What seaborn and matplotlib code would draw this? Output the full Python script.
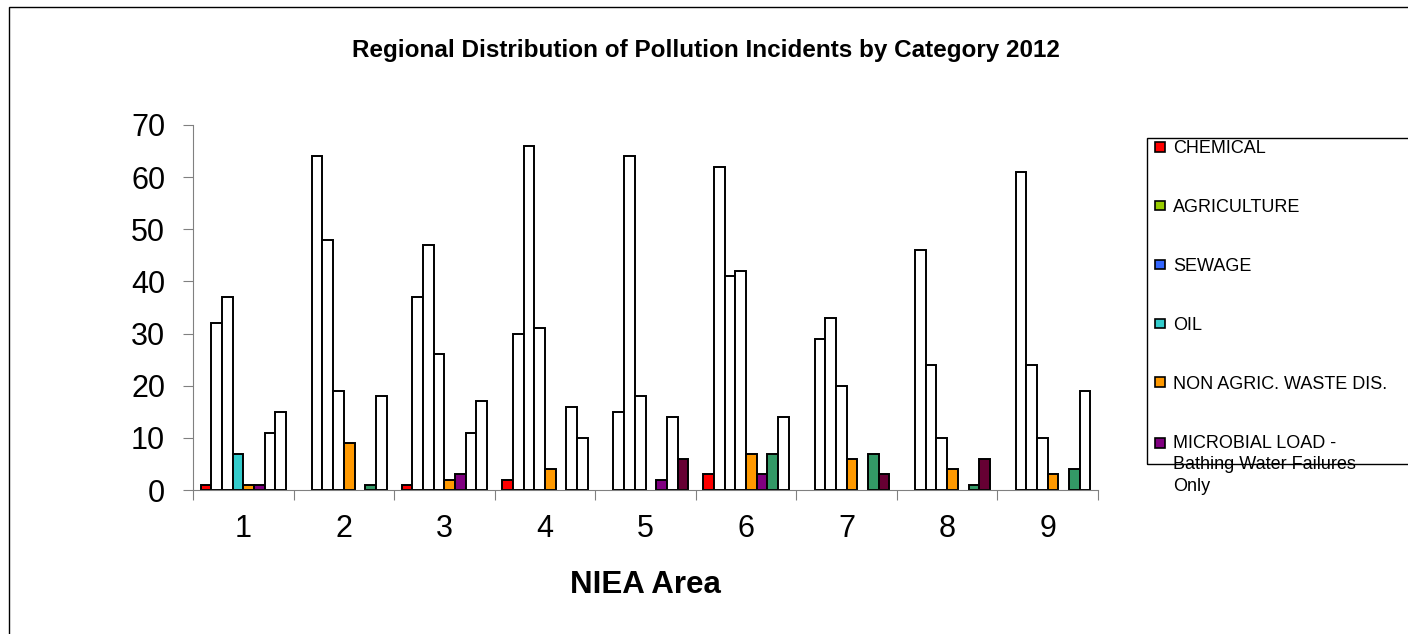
import pandas as pd
import matplotlib.pyplot as plt
import seaborn as sns
from matplotlib.patches import Rectangle
from matplotlib.legend_handler import HandlerPatch

sns.set_theme(style="white")
plt.rcParams['font.family'] = ['Liberation Sans', 'DejaVu Sans']
plt.rcParams['text.color'] = 'black'
plt.rcParams['axes.labelcolor'] = 'black'
plt.rcParams['xtick.labelcolor'] = 'black'
plt.rcParams['ytick.labelcolor'] = 'black'

# data: incidents per NIEA area, one list per category
areas = ['1', '2', '3', '4', '5', '6', '7', '8', '9']
categories = ['CHEMICAL', 'AGRICULTURE', 'SEWAGE', 'OIL', 'NON AGRIC. WASTE DIS.',
              'MICROBIAL LOAD -\nBathing Water Failures\nOnly', 'OTHER', 'UNKNOWN']
chemical = [1, 0, 1, 2, 0, 3, 0, 0, 0]
agriculture = [32, 64, 37, 30, 15, 62, 29, 46, 61]
sewage = [37, 48, 47, 66, 64, 41, 33, 24, 24]
oil = [7, 19, 26, 31, 18, 42, 20, 10, 10]
non_agric = [1, 9, 2, 4, 0, 7, 6, 4, 3]
microbial = [1, 0, 3, 0, 2, 3, 0, 0, 0]
other = [11, 1, 11, 16, 14, 7, 7, 1, 4]
unknown = [15, 18, 17, 10, 6, 14, 3, 6, 19]

colors = ['#FF0000', '#99CC00', '#3366FF', '#33CCCC', '#FF9900', '#800080', '#339966', '#660033']
n_legend = 6  # the last two entries fall outside the visible legend


def build_frame():
    series = [chemical, agriculture, sewage, oil, non_agric, microbial, other, unknown]
    rows = []
    for cat, vals in zip(categories, series):
        for area, v in zip(areas, vals):
            rows.append({'area': area, 'category': cat, 'incidents': v})
    return pd.DataFrame(rows)


def square_handle(legend, orig_handle, xdescent, ydescent, width, height, fontsize):
    side = 7.0
    shift = 0
    if '\n' in orig_handle.get_label():
        shift = 15.6  # put the marker next to the first line
    return Rectangle((width - side - xdescent, (height - side) / 2 - ydescent + shift), side, side)


def main():
    df = build_frame()
    W, H = 1408, 634
    fig = plt.figure(figsize=(W / 100, H / 100), dpi=100)
    ax = fig.add_axes([193 / W, 1 - 490 / H, (1098 - 193) / W, (490 - 125) / H])

    sns.barplot(data=df, x='area', y='incidents', hue='category', order=areas,
                hue_order=categories, palette=dict(zip(categories, colors)),
                width=0.85, edgecolor='black', linewidth=1.4, saturation=1,
                legend=False, ax=ax)

    # bars of 10 or more come out with a white fill in the original
    for p in ax.patches:
        h = p.get_height()
        if h == 0:
            p.set_visible(False)
        elif h >= 10:
            p.set_facecolor('white')

    ax.set_ylim(0, 70)
    ax.set_xlim(-0.5, len(areas) - 0.5)
    ax.set_yticks(range(0, 71, 10))
    ax.set_xticks(range(len(areas)))
    ax.set_xticks([i - 0.5 for i in range(len(areas) + 1)], minor=True)
    ax.tick_params(axis='x', which='major', length=0, pad=17, labelsize=22)
    ax.tick_params(axis='x', which='minor', length=7, width=0.8, color='#808080', direction='out', bottom=True)
    ax.tick_params(axis='y', length=7, width=0.8, color='#808080', left=True, pad=13, labelsize=22)
    for side in ['top', 'right']:
        ax.spines[side].set_visible(False)
    for side in ['left', 'bottom']:
        ax.spines[side].set_color('#808080')
        ax.spines[side].set_linewidth(0.8)
    ax.set_ylabel('')
    ax.set_xlabel('NIEA Area', fontsize=22.5, fontweight='bold', labelpad=19)

    fig.text(706 / W, 1 - 50 / H, 'Regional Distribution of Pollution Incidents by Category 2012',
             ha='center', va='center', fontsize=17.5, fontweight='bold')

    # outer chart border and legend box (both run past the image edge)
    fig.patches.append(Rectangle((9 / W, -0.2), 1.2, 1.2 - 7 / H, transform=fig.transFigure,
                                 fill=False, edgecolor='black', linewidth=1))
    fig.patches.append(Rectangle((1147 / W, 1 - 464 / H), 0.3, (464 - 138) / H, transform=fig.transFigure,
                                 fill=False, edgecolor='black', linewidth=1))

    handles = [Rectangle((0, 0), 1, 1, facecolor=c, edgecolor='black', linewidth=1.2, label=l)
               for c, l in zip(colors[:n_legend], categories[:n_legend])]
    fs = 13
    leg = ax.legend(handles=handles, loc='upper left', bbox_to_anchor=(1147 / W, 1 - 140 / H),
                    bbox_transform=fig.transFigure, frameon=False, borderaxespad=0, borderpad=0,
                    fontsize=fs, labelspacing=42.4 / fs - 0.94, handlelength=12.65 / fs,
                    handletextpad=6.0 / fs,
                    handler_map={Rectangle: HandlerPatch(patch_func=square_handle)})
    for t in leg.get_texts():
        t.set_linespacing(1.36)

    fig.savefig('out.png', dpi=100)
    plt.close(fig)


if __name__ == "__main__":
    main()
